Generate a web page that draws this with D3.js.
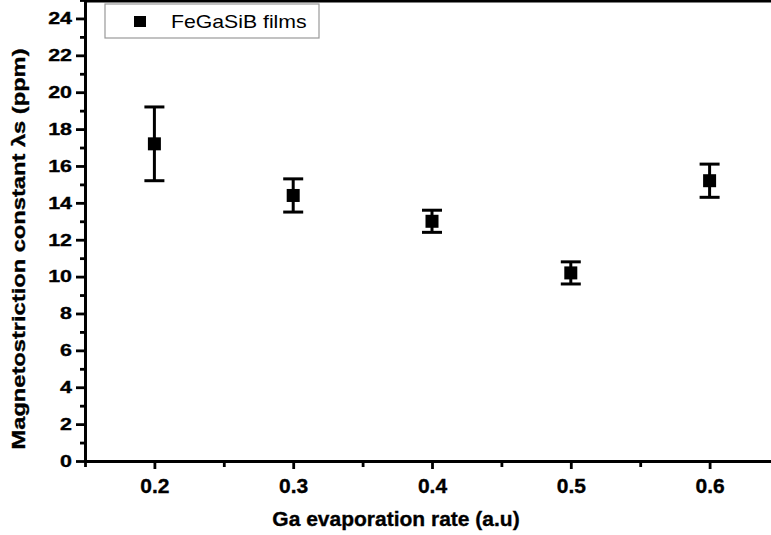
<!DOCTYPE html>
<html>
<head>
<meta charset="utf-8">
<script src="https://cdn.jsdelivr.net/npm/d3@7"></script>
<style>
  body { margin: 0; background: #fff; }
  svg { display: block; font-family: "Liberation Sans", Arial, sans-serif; }
  .axis path, .axis line { stroke: #000; stroke-width: 2.8; }
  .axis text { fill: #000; font-weight: bold; stroke: #000; stroke-width: 0.35; }
  .title { font-weight: bold; stroke: #000; stroke-width: 0.35; }
</style>
</head>
<body>
<div id="chart"></div>
<script>
// values
const rates = [0.2, 0.3, 0.4, 0.5, 0.6]
const lambdaS = [17.2, 14.4, 13.0, 10.2, 15.2]
const lambdaErr = [2.0, 0.9, 0.6, 0.6, 0.9]
const xTicks = [0.2, 0.3, 0.4, 0.5, 0.6]
const xMinor = [0.15, 0.25, 0.35, 0.45, 0.55, 0.65]
const yTicks = [0, 2, 4, 6, 8, 10, 12, 14, 16, 18, 20, 22, 24]
const yMinor = [1, 3, 5, 7, 9, 11, 13, 15, 17, 19, 21, 23, 25]
const seriesName = 'FeGaSiB films'

const W = 771, H = 535
const x = d3.scaleLinear().domain([0.15, 0.65]).range([85, 779])
const y = d3.scaleLinear().domain([0, 25]).range([461, 0])

const svg = d3.select('#chart').append('svg')
  .attr('width', W).attr('height', H)

// top frame
svg.append('line')
  .attr('x1', x(0.15)).attr('x2', W).attr('y1', y(25) + 1).attr('y2', y(25) + 1)
  .attr('stroke', '#000').attr('stroke-width', 2.8)

// minor ticks first, then major axes on top
svg.append('g').attr('class', 'axis')
  .attr('transform', 'translate(0,' + y(0) + ')')
  .call(d3.axisBottom(x).tickValues(xMinor).tickSize(6).tickSizeOuter(0).tickFormat(''))
svg.append('g').attr('class', 'axis')
  .attr('transform', 'translate(' + x(0.15) + ',0)')
  .call(d3.axisLeft(y).tickValues(yMinor).tickSize(5).tickSizeOuter(0).tickFormat(''))

const xAxis = svg.append('g').attr('class', 'axis')
  .attr('transform', 'translate(0,' + y(0) + ')')
  .call(d3.axisBottom(x).tickValues(xTicks).tickSize(8).tickSizeOuter(0).tickFormat(d3.format('.1f')))
xAxis.selectAll('text').attr('y', 17).style('font-size', '21px')

const yAxis = svg.append('g').attr('class', 'axis')
  .attr('transform', 'translate(' + x(0.15) + ',0)')
  .call(d3.axisLeft(y).tickValues(yTicks).tickSize(9).tickSizeOuter(0))
yAxis.selectAll('text')
  .style('font-size', '16.5px')
  .attr('x', -13 / 1.3)
  .attr('transform', 'scale(1.3,1)')

// axis titles
svg.append('text').attr('class', 'title')
  .attr('x', 396).attr('y', 526)
  .attr('text-anchor', 'middle')
  .style('font-size', '21px')
  .text('Ga evaporation rate (a.u)')

svg.append('g')
  .attr('transform', 'translate(25,249) rotate(-90)')
  .append('text').attr('class', 'title')
  .attr('text-anchor', 'middle')
  .attr('transform', 'scale(1.28,1)')
  .style('font-size', '18.5px')
  .text('Magnetostriction constant λs (ppm)')

// error bars
const pts = rates.map((r, i) => ({ r: r, v: lambdaS[i], e: lambdaErr[i] }))
const bars = svg.append('g').attr('stroke', '#000').attr('stroke-width', 3)
bars.selectAll('.stem').data(pts).enter().append('line')
  .attr('x1', d => x(d.r)).attr('x2', d => x(d.r))
  .attr('y1', d => y(d.v + d.e)).attr('y2', d => y(d.v - d.e))
bars.selectAll('.capTop').data(pts).enter().append('line')
  .attr('x1', d => x(d.r) - 10).attr('x2', d => x(d.r) + 10)
  .attr('y1', d => y(d.v + d.e)).attr('y2', d => y(d.v + d.e))
bars.selectAll('.capBot').data(pts).enter().append('line')
  .attr('x1', d => x(d.r) - 10).attr('x2', d => x(d.r) + 10)
  .attr('y1', d => y(d.v - d.e)).attr('y2', d => y(d.v - d.e))

// square markers
svg.append('g').selectAll('rect').data(pts).enter().append('rect')
  .attr('x', d => x(d.r) - 6.5).attr('y', d => y(d.v) - 6.5)
  .attr('width', 13).attr('height', 13)
  .attr('fill', '#000')

// legend
const legend = svg.append('g').attr('transform', 'translate(105,4)')
legend.append('rect')
  .attr('width', 214).attr('height', 34)
  .attr('fill', '#fff').attr('stroke', '#999').attr('stroke-width', 1.2)
legend.append('rect')
  .attr('x', 29).attr('y', 12).attr('width', 12).attr('height', 11)
  .attr('fill', '#000')
legend.append('g').attr('transform', 'translate(66,24)')
  .append('text')
  .attr('transform', 'scale(1.18,1)')
  .style('font-size', '18px')
  .text(seriesName)
</script>
</body>
</html>
